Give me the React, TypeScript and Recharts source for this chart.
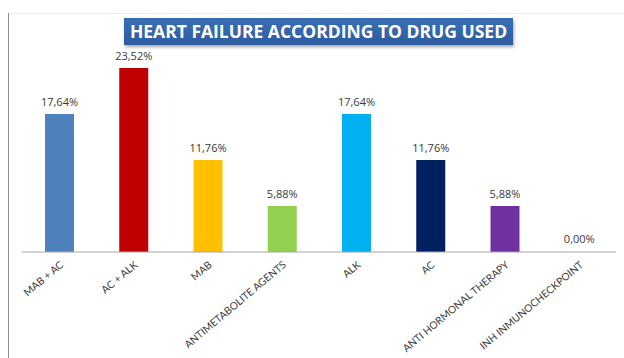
import React from "react"
import { BarChart, Bar, XAxis, YAxis, Cell, LabelList } from "recharts"

const drugs = [
    "MAB + AC",
    "AC + ALK",
    "MAB",
    "ANTIMETABOLITE AGENTS",
    "ALK",
    "AC",
    "ANTI HORMONAL THERAPY",
    "INH INMUNOCHECKPOINT",
]
const percents = [17.64, 23.52, 11.76, 5.88, 17.64, 11.76, 5.88, 0]
const barColors = ["#4f81bd", "#c00000", "#ffc000", "#92d050", "#00b0f0", "#002060", "#7030a0", "transparent"]

const data = drugs.map((name, i) => ({ name, value: percents[i] }))

const fmt = (v: number) => v.toFixed(2).replace(".", ",") + "%"

function AngledTick({ x, y, payload }: any) {
    return (
        <g transform={`translate(${x + 5},${y + 6})`}>
            <text
                transform="rotate(-40)"
                textAnchor="end"
                fontSize={10.3}
                fill="#404040"
                fontFamily="Lato, sans-serif"
            >
                {payload.value}
            </text>
        </g>
    )
}

export default function App() {
    return (
        <div style={{ position: "absolute", left: 0, top: 0, width: 624, height: 358, background: "#fff", overflow: "hidden" }}>
            <div style={{ position: "absolute", left: 8, top: 13, width: 1, height: 345, background: "#8c8c8c" }} />
            <div style={{ position: "absolute", left: 9, top: 13, width: 615, height: 1, background: "#eeeeee" }} />
            <div
                style={{
                    position: "absolute",
                    left: 124,
                    top: 18,
                    width: 389,
                    height: 27,
                    background: "linear-gradient(#3a6fb5, #2d5c9f)",
                    boxShadow: "1px 2px 3px rgba(0,0,0,0.35)",
                    color: "#fff",
                    fontFamily: "'Open Sans', sans-serif",
                    fontWeight: 700,
                    fontSize: 17.5,
                    lineHeight: "27px",
                    textAlign: "center",
                }}
            >
                HEART FAILURE ACCORDING TO DRUG USED
            </div>
            <BarChart
                width={624}
                height={358}
                data={data}
                margin={{ top: 56.5, right: 8, left: 22, bottom: 0 }}
                barCategoryGap="30%"
            >
                <YAxis hide domain={[0, 25]} />
                <XAxis
                    dataKey="name"
                    height={106}
                    interval={0}
                    tickLine={false}
                    axisLine={{ stroke: "#a6a6a6" }}
                    tick={<AngledTick />}
                />
                <Bar dataKey="value" barSize={29} minPointSize={1} isAnimationActive={false}>
                    {data.map((d, i) => (
                        <Cell key={d.name} fill={barColors[i]} />
                    ))}
                    <LabelList
                        dataKey="value"
                        position="top"
                        offset={8}
                        formatter={(v: any) => fmt(Number(v))}
                        fontSize={11}
                        fill="#3a3a3a"
                        fontFamily="'Open Sans', sans-serif"
                    />
                </Bar>
            </BarChart>
        </div>
    )
}
